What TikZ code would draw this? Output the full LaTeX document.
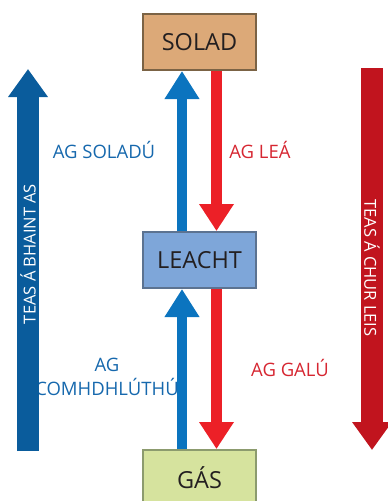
\documentclass[tikz,border=0pt]{standalone}
\usepackage{fontspec}
\setmainfont{Open Sans}
\usetikzlibrary{arrows.meta, positioning}

\definecolor{soladfill}{HTML}{DCA978}
\definecolor{soladline}{HTML}{7B6345}
\definecolor{leachtfill}{HTML}{7EA6D9}
\definecolor{leachtline}{HTML}{5C7391}
\definecolor{gasfill}{HTML}{D6E39E}
\definecolor{gasline}{HTML}{8C9B6E}
\definecolor{flowblue}{HTML}{0B74BF}
\definecolor{flowred}{HTML}{EC2027}
\definecolor{heatblue}{HTML}{0A5C9C}
\definecolor{heatred}{HTML}{C1141E}
\definecolor{boxtext}{HTML}{231F20}
\definecolor{labelblue}{HTML}{1668AD}
\definecolor{labelred}{HTML}{D62631}

\begin{document}
\begin{tikzpicture} [x=1pt, y=-1pt,
            node distance = 218pt,
            on grid,
            phase/.style = {draw, line width=2pt, minimum width=113pt,
                minimum height=56pt, text=boxtext,
                font=\fontsize{23.5}{26}\selectfont},
            upflow/.style = {flowblue, line width=10pt,
                -{Triangle[width=33pt, length=28pt]}},
            downflow/.style = {flowred, line width=11pt,
                -{Triangle[width=33pt, length=27pt]}},
            heat/.style = {line width=22pt,
                -{Triangle[width=38pt, length=28pt]}},
            heattext/.style = {text=white, font=\fontsize{16.5}{18}\selectfont},
            steplabel/.style = {align=center, font=\fontsize{18.5}{24}\selectfont}]

            \useasboundingbox (0,0) rectangle (388,501);

            % Phases
            \node (solad) [phase, fill=soladfill, draw=soladline]
                at (199.5,42) {SOLAD};
            \node (leacht) [phase, fill=leachtfill, draw=leachtline,
                below = of solad] {LEACHT};
            \node (gas) [phase, fill=gasfill, draw=gasline,
                below = of leacht] {GÁS};

            % Changes of phase
            \draw [upflow] ([xshift=-17.5pt]leacht.north)
                -- ([xshift=-17.5pt]solad.south);
            \draw [downflow] ([xshift=17pt]solad.south)
                -- ([xshift=17pt]leacht.north);
            \draw [upflow] ([xshift=-17.5pt]gas.north)
                -- ([xshift=-17.5pt]leacht.south);
            \draw [downflow] ([xshift=17pt]leacht.south)
                -- ([xshift=17pt]gas.north);

            % Labels
            \node (soladu) [steplabel, text=labelblue] at (104,150) {AG SOLADÚ};
            \node (lea) [steplabel, text=labelred] at (260,150) {AG LEÁ};
            \node (comhdhluthu) [steplabel, text=labelblue]
                at (107,377) {AG\\COMHDHLÚTHÚ};
            \node (galu) [steplabel, text=labelred] at (290,368) {AG GALÚ};

            % Heat
            \coordinate (bhaintbun) at (28,451);
            \coordinate (bhaintbarr) at (28,69);
            \coordinate (churbarr) at (372,68);
            \coordinate (churbun) at (372,450);
            \draw [heat, heatblue] (bhaintbun) -- (bhaintbarr);
            \draw [heat, heatred] (churbarr) -- (churbun);
            \node (bhaint) [heattext, rotate=90] at (28,254) {TEAS Á BHAINT AS};
            \node (chur) [heattext, rotate=-90] at (372,268) {TEAS Á CHUR LEIS};
        \end{tikzpicture}
\end{document}
